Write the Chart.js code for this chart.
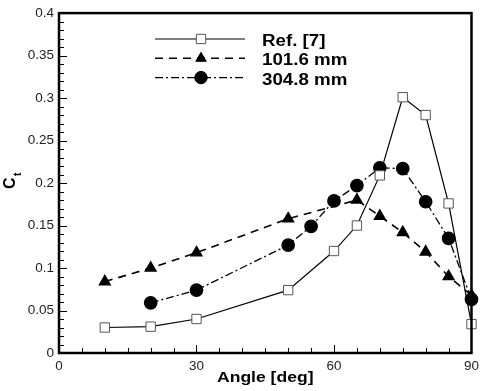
<!DOCTYPE html>
<html>
<head>
<meta charset="utf-8">
<script src="https://cdn.jsdelivr.net/npm/chart.js@4/dist/chart.umd.min.js"></script>
<style>
	html, body { margin: 0; padding: 0; background: #fff; }
</style>
</head>
<body>
<canvas id="chart" width="484" height="391"></canvas>
<script>
// values
const refAngles = [10, 20, 30, 50, 60, 65, 70, 75, 80, 85, 90];
const refCt = [0.03, 0.031, 0.04, 0.074, 0.12, 0.15, 0.209, 0.301, 0.28, 0.176, 0.034];

const smallAngles = [10, 20, 30, 50, 65, 70, 75, 80, 85, 90];
const smallCt = [0.084, 0.1, 0.118, 0.158, 0.18, 0.161, 0.142, 0.119, 0.09, 0.068];

const largeAngles = [20, 30, 50, 55, 60, 65, 70, 75, 80, 85, 90];
const largeCt = [0.059, 0.074, 0.127, 0.149, 0.179, 0.197, 0.218, 0.217, 0.178, 0.135, 0.063];

const seriesLabels = ['Ref. [7]', '101.6 mm', '304.8 mm'];
const xTicks = [0, 30, 60, 90];
const yTicks = [0, 0.05, 0.1, 0.15, 0.2, 0.25, 0.3, 0.35, 0.4];

const FONT = '"Liberation Sans", Arial, sans-serif';

const toPoints = (xs, ys) => xs.map((x, i) => ({ x, y: ys[i] }));

function drawMarker(ctx, style, x, y, r, fill, stroke) {
	ctx.save();
	ctx.setLineDash([]);
	ctx.beginPath();
	if (style === 'rect') {
		const s = r * Math.SQRT1_2;
		ctx.rect(x - s, y - s, 2 * s, 2 * s);
	} else if (style === 'triangle') {
		ctx.moveTo(x, y - r);
		ctx.lineTo(x + r * 0.866, y + r * 0.5);
		ctx.lineTo(x - r * 0.866, y + r * 0.5);
		ctx.closePath();
	} else {
		ctx.arc(x, y, r, 0, Math.PI * 2);
	}
	ctx.fillStyle = fill;
	ctx.fill();
	ctx.lineWidth = 1;
	ctx.strokeStyle = stroke;
	ctx.stroke();
	ctx.restore();
}

// wide bold text like the original figure
function wideText(ctx, text, x, y, size, align) {
	const stretch = 1.17;
	ctx.save();
	ctx.font = 'bold ' + size + 'px ' + FONT;
	ctx.textBaseline = 'alphabetic';
	ctx.textAlign = 'left';
	const w = ctx.measureText(text).width * stretch;
	const left = align === 'center' ? x - w / 2 : x;
	ctx.translate(left, y);
	ctx.scale(stretch, 1);
	ctx.fillText(text, 0, 0);
	ctx.restore();
}

// inward ticks, frame, legend and axis titles
const decorPlugin = {
	id: 'decor',
	afterDraw(chart) {
		const ctx = chart.ctx;
		const area = chart.chartArea;
		const xs = chart.scales.x;
		const ys = chart.scales.y;

		ctx.save();
		ctx.strokeStyle = '#000';
		ctx.lineWidth = 1;
		for (let v = 0; v <= 90; v += 5) {
			const px = Math.round(xs.getPixelForValue(v)) + 0.5;
			const len = v % 30 === 0 ? 8 : 5;
			ctx.beginPath();
			ctx.moveTo(px, area.bottom);
			ctx.lineTo(px, area.bottom - len);
			ctx.stroke();
		}
		for (let i = 0; i <= 40; i++) {
			const py = Math.round(ys.getPixelForValue(i / 100)) + 0.5;
			const len = i % 5 === 0 ? 8 : 5;
			ctx.beginPath();
			ctx.moveTo(area.left, py);
			ctx.lineTo(area.left + len, py);
			ctx.stroke();
		}

		ctx.lineWidth = 2.5;
		ctx.strokeRect(area.left, area.top, area.right - area.left, area.bottom - area.top);

		// legend
		ctx.fillStyle = '#000';
		chart.data.datasets.forEach((ds, i) => {
			const y = 39 + i * 19.3;
			ctx.save();
			ctx.lineWidth = ds.borderWidth;
			ctx.strokeStyle = ds.borderColor;
			ctx.setLineDash(ds.borderDash || []);
			ctx.beginPath();
			ctx.moveTo(155, y);
			ctx.lineTo(245, y);
			ctx.stroke();
			ctx.restore();
			drawMarker(ctx, ds.pointStyle, 201, y, ds.pointRadius, ds.pointBackgroundColor, ds.pointBorderColor);
			wideText(ctx, ds.label, 262, y + 7, 16, 'left');
		});

		// axis titles
		wideText(ctx, 'Angle [deg]', (area.left + area.right) / 2, 382, 15, 'center');

		ctx.translate(15, 189);
		ctx.rotate(-Math.PI / 2);
		ctx.textAlign = 'left';
		ctx.textBaseline = 'alphabetic';
		ctx.font = 'bold 16px ' + FONT;
		ctx.fillText('C', 0, 0);
		ctx.font = 'bold 10px ' + FONT;
		ctx.fillText('t', 13, 6);
		ctx.restore();
	},
};

const chart = new Chart(document.getElementById('chart'), {
	type: 'scatter',
	data: {
		datasets: [
			{
				label: seriesLabels[0],
				data: toPoints(refAngles, refCt),
				showLine: true,
				borderColor: '#000',
				borderWidth: 1.2,
				pointStyle: 'rect',
				pointRadius: 6.6,
				pointBackgroundColor: '#fff',
				pointBorderColor: '#555',
				pointBorderWidth: 1,
				clip: false,
			},
			{
				label: seriesLabels[1],
				data: toPoints(smallAngles, smallCt),
				showLine: true,
				borderColor: '#000',
				borderWidth: 1.6,
				borderDash: [8, 6],
				pointStyle: 'triangle',
				pointRadius: 6,
				pointBackgroundColor: '#000',
				pointBorderColor: '#000',
				clip: false,
			},
			{
				label: seriesLabels[2],
				data: toPoints(largeAngles, largeCt),
				showLine: true,
				borderColor: '#000',
				borderWidth: 1.3,
				borderDash: [8, 3, 2, 3],
				pointStyle: 'circle',
				pointRadius: 6.2,
				pointBackgroundColor: '#000',
				pointBorderColor: '#000',
				clip: false,
			},
		],
	},
	options: {
		responsive: false,
		animation: false,
		layout: { padding: { top: 9, right: 12, left: 0, bottom: 0 } },
		plugins: {
			legend: { display: false },
			tooltip: { enabled: false },
		},
		scales: {
			x: {
				type: 'linear',
				min: 0,
				max: 90,
				afterBuildTicks: (scale) => {
					scale.ticks = xTicks.map((value) => ({ value }));
				},
				afterFit: (scale) => {
					scale.height = 38;
				},
				grid: { display: false, drawTicks: false },
				border: { display: false },
				ticks: {
					padding: 5,
					color: '#222',
					font: { family: FONT, size: 13.5 },
				},
			},
			y: {
				min: 0,
				max: 0.4,
				afterBuildTicks: (scale) => {
					scale.ticks = yTicks.map((value) => ({ value }));
				},
				afterFit: (scale) => {
					scale.width = 59;
				},
				grid: { display: false, drawTicks: false },
				border: { display: false },
				ticks: {
					padding: 5,
					color: '#222',
					font: { family: FONT, size: 13.5 },
					callback: (v) => String(Number(v.toFixed(2))),
				},
			},
		},
	},
	plugins: [decorPlugin],
});
</script>
</body>
</html>
